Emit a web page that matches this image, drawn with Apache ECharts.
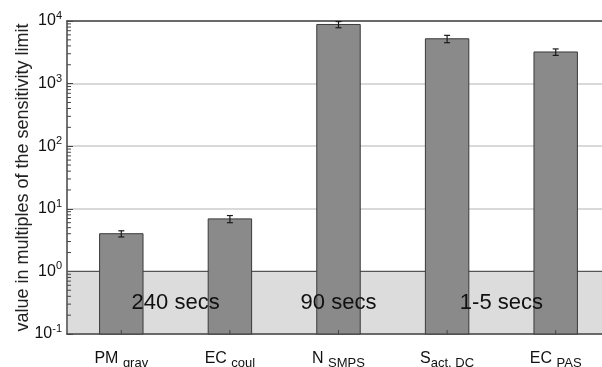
<!DOCTYPE html>
<html><head><meta charset="utf-8">
<script src="https://cdn.jsdelivr.net/npm/echarts@6/dist/echarts.min.js"></script>
<style>html,body{margin:0;padding:0;background:#fff}#c{width:602px;height:367px}</style>
</head><body><div id="c"></div>
<script>
// ---- data ----
const categories = ['PM grav', 'EC coul', 'N SMPS', 'S act. DC', 'EC PAS'];
const labelMain = ['PM', 'EC', 'N', 'S', 'EC'];
const labelSub = ['grav', 'coul', 'SMPS', 'act. DC', 'PAS'];
const labelGap = [' ', ' ', ' ', '', ' '];
const values = [4.0, 6.9, 8800, 5200, 3200];
const errors = [0.45, 0.9, 1000, 700, 380];
const yMin = 0.1, yMax = 10000;
const regionLow = 0.1, regionHigh = 1;
const timeLabels = ['240 secs', '90 secs', '1-5 secs'];
const timeLabelPos = [1.5, 3, 4.5];
const timeLabelY = 0.31;
const yAxisName = 'value in multiples of the sensitivity limit';
const minorMultipliers = [2, 3, 4, 5, 6, 7, 8, 9];
const decades = [0.1, 1, 10, 100, 1000];

// ---- chart ----
const FONT = '"Liberation Sans", Arial, sans-serif';
const AX = '#444';
const minorTicks = [];
decades.forEach(d => minorMultipliers.forEach(m => minorTicks.push([0, d * m])));

const chart = echarts.init(document.getElementById('c'), null, {renderer: 'canvas'});
chart.setOption({
  animation: false,
  backgroundColor: '#ffffff',
  grid: {left: 67, top: 21, width: 543, height: 313, outerBoundsMode: 'none', containLabel: false},
  xAxis: [
    {
      type: 'category', data: categories, position: 'bottom',
      axisLine: {lineStyle: {color: AX, width: 1.5}},
      axisTick: {inside: true, alignWithLabel: true, length: 4, lineStyle: {color: AX}},
      axisLabel: {
        margin: 14, interval: 0,
        formatter: (v, i) => '{m|' + labelMain[i] + labelGap[i] + '}{s|' + labelSub[i] + '}',
        rich: {
          m: {fontSize: 16, fontFamily: FONT, color: '#111'},
          s: {fontSize: 13, fontFamily: FONT, color: '#111', padding: [9, 0, 0, 0]}
        }
      },
      splitLine: {show: false}
    },
    {
      type: 'category', data: categories, position: 'top',
      axisLine: {lineStyle: {color: AX, width: 1.5}},
      axisTick: {inside: true, alignWithLabel: true, length: 4, interval: 0, lineStyle: {color: AX}},
      axisLabel: {show: false},
      splitLine: {show: false}
    },
    {type: 'value', min: 0.5, max: 5.5, show: false}
  ],
  yAxis: {
    type: 'log', logBase: 10, min: yMin, max: yMax,
    name: yAxisName, nameLocation: 'middle', nameGap: 35, nameMoveOverlap: false,
    nameTextStyle: {fontSize: 18, fontFamily: FONT, color: '#222'},
    axisLine: {show: true, lineStyle: {color: AX, width: 1.5}},
    axisTick: {inside: true, length: 6, lineStyle: {color: AX}},
    axisLabel: {
      margin: 5,
      formatter: v => '{b|10}{e|' + Math.round(Math.log10(v)) + '}',
      rich: {
        b: {fontSize: 16, fontFamily: FONT, color: '#111'},
        e: {fontSize: 11, fontFamily: FONT, color: '#111', padding: [0, 0, 10, 0]}
      }
    },
    splitLine: {show: true, lineStyle: {color: '#cccccc', width: 1.5}}
  },
  series: [
    {
      // shaded region below 1
      type: 'custom', xAxisIndex: 0, yAxisIndex: 0, z: 1, silent: true,
      data: [[0, regionLow, regionHigh]],
      renderItem: (params, api) => {
        const cs = params.coordSys;
        const lo = api.coord([0, api.value(1)]);
        const hi = api.coord([0, api.value(2)]);
        return {type: 'group', children: [
          {type: 'rect', shape: {x: cs.x + 1, y: hi[1], width: cs.width, height: lo[1] - hi[1] - 1},
           style: {fill: '#dcdcdc'}},
          {type: 'line', shape: {x1: cs.x, y1: hi[1], x2: cs.x + cs.width, y2: hi[1]},
           style: {stroke: '#555', lineWidth: 1.2}}
        ]};
      }
    },
    {
      // bars from the axis bottom (0.1) up to the value
      type: 'custom', xAxisIndex: 0, yAxisIndex: 0, z: 3, silent: true,
      data: values.map((v, i) => [i, v]),
      renderItem: (params, api) => {
        const i = api.value(0);
        const top = api.coord([i, api.value(1)]);
        const bot = api.coord([i, yMin]);
        const w = api.size([1, 0])[0] * 0.4;
        return {type: 'rect',
                shape: {x: top[0] - w / 2, y: top[1], width: w, height: bot[1] - top[1]},
                style: {fill: '#8a8a8a', stroke: '#3a3a3a', lineWidth: 1}};
      }
    },
    {
      // error bars
      type: 'custom', xAxisIndex: 0, yAxisIndex: 0, z: 4, silent: true,
      data: values.map((v, i) => [i, v - errors[i], v + errors[i]]),
      renderItem: (params, api) => {
        const x = api.value(0);
        const lo = api.coord([x, api.value(1)]);
        const hi = api.coord([x, api.value(2)]);
        const hw = 3;
        const st = {stroke: '#1a1a1a', lineWidth: 1.2};
        return {type: 'group', children: [
          {type: 'line', shape: {x1: lo[0], y1: lo[1], x2: hi[0], y2: hi[1]}, style: st},
          {type: 'line', shape: {x1: lo[0] - hw, y1: lo[1], x2: lo[0] + hw, y2: lo[1]}, style: st},
          {type: 'line', shape: {x1: hi[0] - hw, y1: hi[1], x2: hi[0] + hw, y2: hi[1]}, style: st}
        ]};
      }
    },
    {
      // bottom ticks visible through bars
      type: 'custom', xAxisIndex: 0, yAxisIndex: 0, z: 5, silent: true,
      data: categories.map((c, i) => [i, yMin]),
      renderItem: (params, api) => {
        const p = api.coord([api.value(0), api.value(1)]);
        return {type: 'line', shape: {x1: p[0], y1: p[1], x2: p[0], y2: p[1] - 4},
                style: {stroke: AX, lineWidth: 1}};
      }
    },
    {
      // log minor ticks on left axis
      type: 'custom', xAxisIndex: 0, yAxisIndex: 0, z: 2, silent: true,
      data: minorTicks,
      renderItem: (params, api) => {
        const cs = params.coordSys;
        const p = api.coord([0, api.value(1)]);
        return {type: 'line', shape: {x1: cs.x, y1: p[1], x2: cs.x + 4, y2: p[1]},
                style: {stroke: AX, lineWidth: 1}};
      }
    },
    {
      // timing text labels
      type: 'custom', xAxisIndex: 2, yAxisIndex: 0, z: 6, silent: true,
      data: timeLabelPos.map((x, i) => [x, timeLabelY, i]),
      renderItem: (params, api) => {
        const p = api.coord([api.value(0), api.value(1)]);
        return {type: 'text', x: p[0], y: p[1],
                style: {text: timeLabels[api.value(2)], fontSize: 22, fontFamily: FONT,
                        fill: '#111', align: 'center', verticalAlign: 'middle'}};
      }
    }
  ]
});
</script>
</body></html>
